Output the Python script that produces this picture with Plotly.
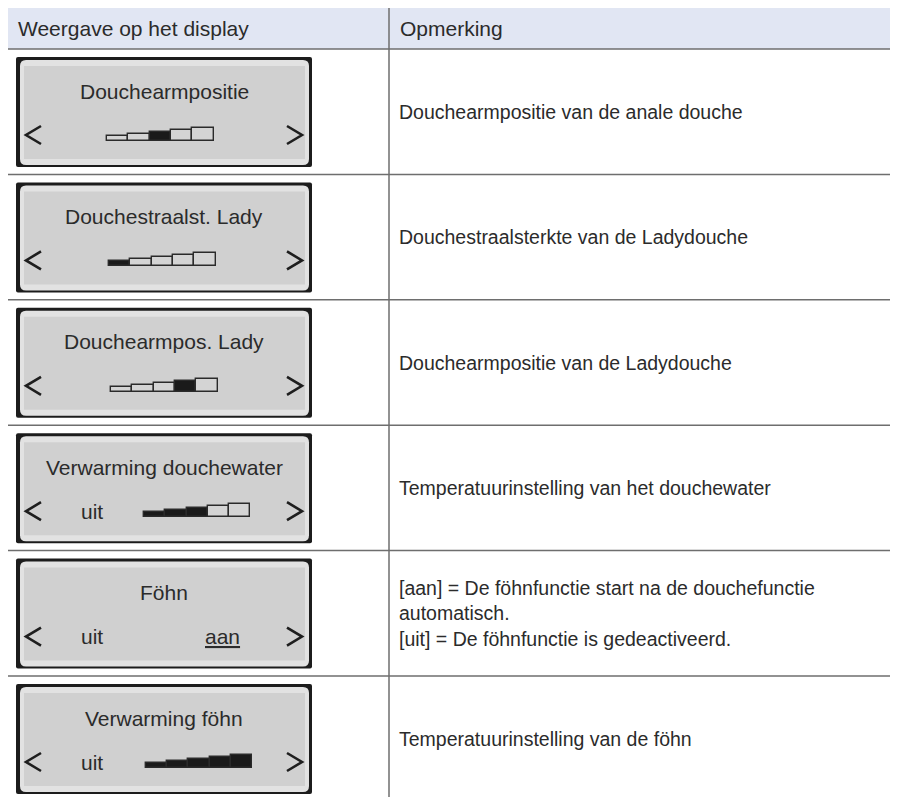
import plotly.graph_objects as go

# ---- data -------------------------------------------------------------
header_left = "Weergave op het display"
header_right = "Opmerking"

display_titles = [
    "Douchearmpositie",
    "Douchestraalst. Lady",
    "Douchearmpos. Lady",
    "Verwarming douchewater",
    "Föhn",
    "Verwarming föhn",
]
# which of the five level segments are filled (None = no level meter)
meter_filled = [
    [0, 0, 1, 0, 0],
    [1, 0, 0, 0, 0],
    [0, 0, 0, 1, 0],
    [1, 1, 1, 0, 0],
    None,
    [1, 1, 1, 1, 1],
]
meter_heights = [5, 7, 9, 11, 13]
show_uit = [False, False, False, True, True, True]
show_aan = [False, False, False, False, True, False]

remarks = [
    "Douchearmpositie van de anale douche",
    "Douchestraalsterkte van de Ladydouche",
    "Douchearmpositie van de Ladydouche",
    "Temperatuurinstelling van het douchewater",
    "[aan] = De föhnfunctie start na de douchefunctie<br>automatisch.<br>[uit] = De föhnfunctie is gedeactiveerd.",
    "Temperatuurinstelling van de föhn",
]

# ---- layout constants --------------------------------------------------
W, H = 898, 797
PAGE_PAD = 8  # default body margin of the html page
FONT = "Liberation Sans, Arial, Helvetica, sans-serif"
TXT = "#2b2b2b"
LINE = "#6e6e6e"
TABLE_L, COL_X, TOP, HEAD_B = 7, 389, 7, 49
ROW_H = 125.4
BOX_L, BOX_R = 16, 312


def rounded(x0, y0, x1, y1, r):
    return (f"M{x0 + r},{y0} L{x1 - r},{y0} Q{x1},{y0} {x1},{y0 + r} "
            f"L{x1},{y1 - r} Q{x1},{y1} {x1 - r},{y1} L{x0 + r},{y1} "
            f"Q{x0},{y1} {x0},{y1 - r} L{x0},{y0 + r} Q{x0},{y0} {x0 + r},{y0} Z")


shapes = []
annotations = []
fig = go.Figure()

# header
shapes.append(dict(type="rect", x0=TABLE_L, x1=W, y0=TOP, y1=HEAD_B,
                   fillcolor="#e1e6f3", line_width=0, layer="below"))
annotations.append(dict(x=16, y=(TOP + HEAD_B) / 2, text=header_left,
                        xanchor="left", font=dict(size=21, color=TXT)))
annotations.append(dict(x=COL_X + 9, y=(TOP + HEAD_B) / 2, text=header_right,
                        xanchor="left", font=dict(size=21, color=TXT)))

# table grid
shapes.append(dict(type="line", x0=TABLE_L, x1=TABLE_L, y0=TOP, y1=H,
                   line=dict(color=LINE, width=1.5)))
shapes.append(dict(type="line", x0=COL_X, x1=COL_X, y0=TOP, y1=H,
                   line=dict(color=LINE, width=1.5)))
for i in range(len(display_titles)):
    y = HEAD_B + i * ROW_H
    shapes.append(dict(type="line", x0=TABLE_L, x1=W, y0=y, y1=y,
                       line=dict(color=LINE, width=1.5)))

for i, title in enumerate(display_titles):
    top = HEAD_B + i * ROW_H + 8
    # display frame
    shapes.append(dict(type="path", path=rounded(BOX_L, top, BOX_R, top + 110, 2),
                       fillcolor="#1c1c1c", line_width=0, layer="below"))
    shapes.append(dict(type="path", path=rounded(20, top + 3, 309, top + 108, 6),
                       fillcolor="#e2e2e2", line_width=0, layer="below"))
    shapes.append(dict(type="rect", x0=24, x1=305, y0=top + 9, y1=top + 102,
                       fillcolor="#d0d0d0", line_width=0, layer="below"))
    # arrows
    cy = top + 78
    shapes.append(dict(type="path", path=f"M41,{cy - 9} L26,{cy} L41,{cy + 9}",
                       line=dict(color="#1e1e1e", width=2.6)))
    shapes.append(dict(type="path", path=f"M287,{cy - 9} L302,{cy} L287,{cy + 9}",
                       line=dict(color="#1e1e1e", width=2.6)))

    annotations.append(dict(x=(BOX_L + BOX_R) / 2, y=top + 34, text=title,
                            font=dict(size=21, color=TXT)))
    if show_uit[i]:
        annotations.append(dict(x=92, y=cy, text="uit", font=dict(size=21, color=TXT)))
    if show_aan[i]:
        annotations.append(dict(x=222, y=cy, text="<u>aan</u>", font=dict(size=21, color=TXT)))

    filled = meter_filled[i]
    if filled is not None:
        x0 = 142 if show_uit[i] else 111
        seg = 21.3
        fig.add_trace(go.Bar(
            x=[x0 + seg * (k + 0.5) for k in range(5)],
            y=[-h for h in meter_heights],
            base=[top + 84] * 5,
            width=seg,
            marker=dict(color=["#1a1a1a" if f else "#d4d4d4" for f in filled],
                        line=dict(color="#2a2a2a", width=1.4)),
            hoverinfo="skip", showlegend=False,
        ))

    # remark column
    annotations.append(dict(x=COL_X + 8, y=HEAD_B + i * ROW_H + ROW_H / 2,
                            text=remarks[i], xanchor="left", align="left",
                            font=dict(size=19.5, color=TXT)))

for a in annotations:
    a.update(xref="x", yref="y", showarrow=False)

fig.update_layout(
    width=W - PAGE_PAD, height=H - PAGE_PAD, margin=dict(l=0, r=0, t=0, b=0),
    paper_bgcolor="white", plot_bgcolor="white",
    font=dict(family=FONT),
    xaxis=dict(range=[PAGE_PAD, W], visible=False, fixedrange=True),
    yaxis=dict(range=[H, PAGE_PAD], visible=False, fixedrange=True),
    shapes=shapes, annotations=annotations, bargap=0,
)

fig.write_html("out.html")
